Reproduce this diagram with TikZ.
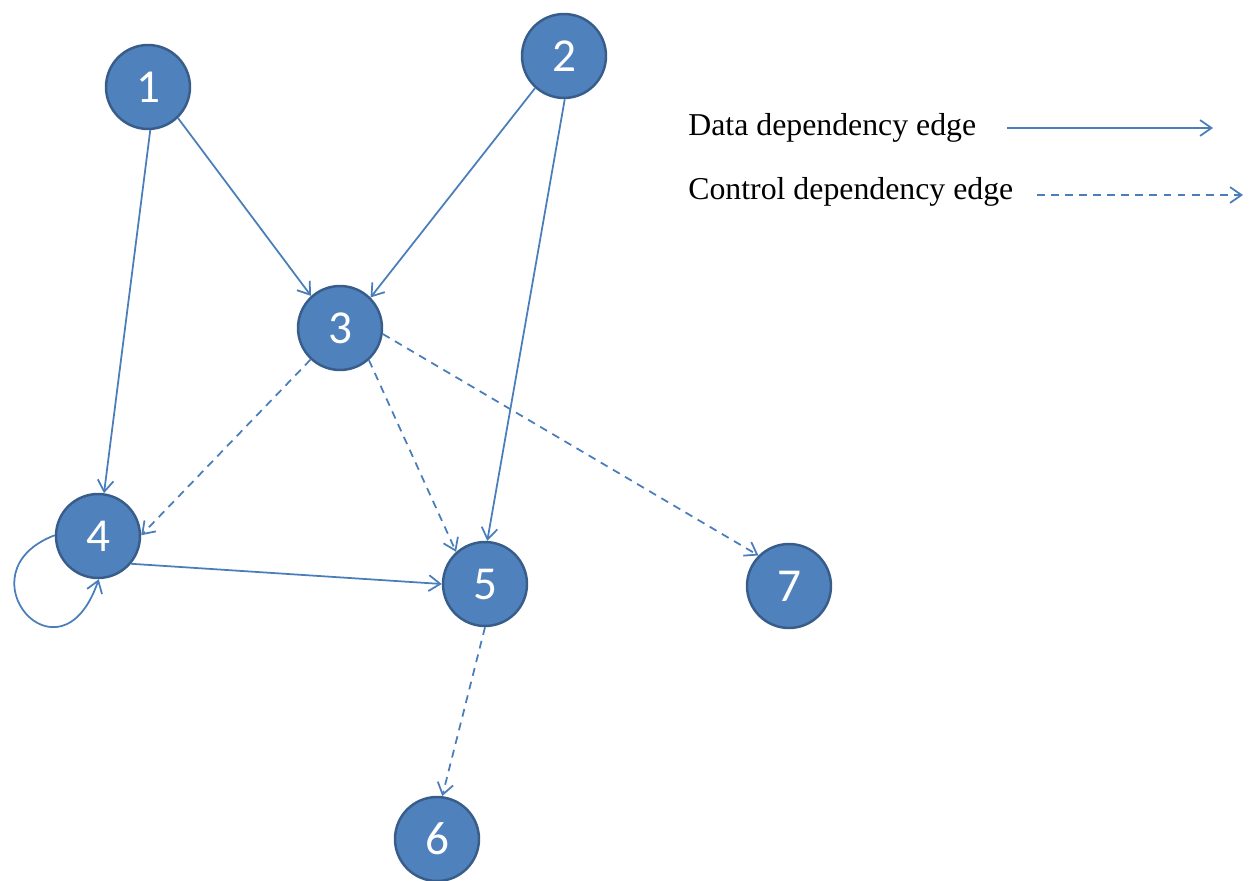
\documentclass[tikz,border=0pt]{standalone}
\usepackage{fontspec}
\setmainfont{Liberation Serif}
\newfontfamily\nodefont{Carlito}
\usetikzlibrary{arrows.meta}
\definecolor{nodefill}{HTML}{4F81BD}
\definecolor{nodeedge}{HTML}{385D8A}
\definecolor{edgeblue}{HTML}{4A7EBB}
\begin{document}
\begin{tikzpicture}[x=0.02cm,y=-0.02cm,
  vertex/.style={circle,fill=nodefill,draw=nodeedge,line width=1.4pt,
    minimum size=1.68cm,inner sep=0pt,text=white,
    font=\nodefont\fontsize{26.9pt}{30pt}\selectfont},
  dataedge/.style={draw=edgeblue,line width=1pt,
    -{Straight Barb[length=6.5pt,width=9pt,line width=1pt]}},
  ctrledge/.style={dataedge,dash pattern=on 4.5pt off 3.5pt},
  legendtext/.style={anchor=base west,inner sep=0pt,
    font=\fontsize{18.1pt}{20pt}\selectfont}]
\useasboundingbox (0,0) rectangle (1257,881);

% vertices
\node[vertex] (n1) at (148,87)  {1};
\node[vertex] (n2) at (564,56)  {2};
\node[vertex] (n3) at (340,328) {3};
\node[vertex] (n4) at (98,536)  {4};
\node[vertex] (n5) at (485,584) {5};
\node[vertex] (n6) at (437,839) {6};
\node[vertex] (n7) at (789,586) {7};

% data dependency edges
\draw[dataedge] (n1.-46)  -- (n3.132);
\draw[dataedge] (n1.-87)  -- (n4.82);
\draw[dataedge] (n2.-132) -- (n3.45);
\draw[dataedge] (n2.-89)  -- (n5.87);
\draw[dataedge] (n4.-40)  -- (n5.180);
\draw[dataedge] (n4.179) .. controls (-42,572) and (60,692) .. (n4.-89);

% control dependency edges
\draw[ctrledge] (n3.-133) -- (n4.1);
\draw[ctrledge] (n3.-48)  -- (n5.132);
\draw[ctrledge] (n3.-8)   -- (n7.135);
\draw[ctrledge] (n5.-90)  -- (n6.83);

% legend
\node[legendtext] (ldata) at (688,136) {Data dependency edge};
\node[legendtext] (lctrl) at (688,200) {Control dependency edge};
\coordinate (da) at (1007,128);
\coordinate (db) at (1213,128);
\coordinate (ca) at (1037,195);
\coordinate (cb) at (1243,195);
\draw[dataedge] (da) -- (db);
\draw[ctrledge] (ca) -- (cb);
\end{tikzpicture}
\end{document}
